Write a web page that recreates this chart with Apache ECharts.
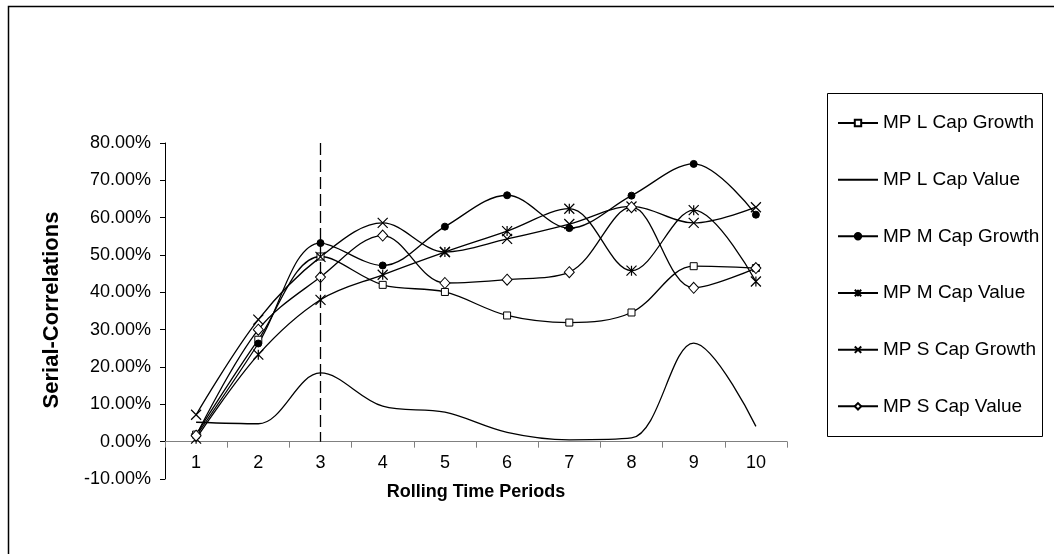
<!DOCTYPE html>
<html>
<head>
<meta charset="utf-8">
<script src="https://cdn.jsdelivr.net/npm/echarts@6/dist/echarts.min.js"></script>
<style>
html,body{margin:0;padding:0;background:#fff;}
#c{width:1054px;height:554px;}
</style>
</head>
<body>
<div id="c"></div>
<script>
// ---- data ----
const categories = ['1','2','3','4','5','6','7','8','9','10'];
const seriesNames = ['MP L Cap Growth','MP L Cap Value','MP M Cap Growth','MP M Cap Value','MP S Cap Growth','MP S Cap Value'];
const lCapGrowth = [1.9, 27.3, 49.6, 42.0, 40.1, 33.8, 31.9, 34.6, 47.0, 46.5];
const lCapValue  = [5.2, 4.8, 18.4, 9.5, 7.9, 2.5, 0.5, 1.0, 26.4, 4.1];
const mCapGrowth = [1.5, 26.3, 53.2, 47.2, 57.6, 66.0, 57.2, 65.9, 74.4, 60.8];
const mCapValue  = [0.8, 23.3, 38.0, 44.7, 50.8, 56.4, 62.4, 45.8, 62.0, 42.9];
const sCapGrowth = [7.2, 32.7, 49.5, 58.6, 50.8, 54.3, 58.3, 63.0, 58.6, 62.8];
const sCapValue  = [1.6, 30.0, 44.1, 55.2, 42.5, 43.4, 45.4, 62.8, 41.2, 46.5];
const refLineCategory = '3';
const refLineFrom = 80;
const refLineTo = 0;
const yMin = -10, yMax = 80, yStep = 10;

// ---- layout ----
const FONT = '"Liberation Sans", Arial, Helvetica, sans-serif';
const W = 1054, H = 554;
const gridTop = 143, gridBottom = 75, gridLeft = 165, gridRight = 267;
const plotH = H - gridTop - gridBottom;
const zeroOffset = -((0 - yMin) / (yMax - yMin)) * plotH;

const chart = echarts.init(document.getElementById('c'), null, {renderer: 'canvas'});
const lineStyle = {color: '#000', width: 1.3};
const SM = 0.35;

function mk(name, data, symbol, size, itemStyle, extra) {
  return Object.assign({
    name: name, type: 'line', data: data, smooth: SM,
    symbol: symbol, symbolSize: size, showSymbol: symbol !== 'none',
    lineStyle: lineStyle, itemStyle: itemStyle,
    emphasis: {disabled: true}, z: 3
  }, extra || {});
}

const crossPath = 'path://M0,0L10,10M10,0L0,10';
const starPath = 'path://M5,0L5,10M0,0L10,10M10,0L0,10';
const legendCenters = [123, 179.7, 236.3, 293, 349.7, 406.3];

const option = {
  animation: false,
  backgroundColor: '#fff',
  textStyle: {fontFamily: FONT},
  grid: {left: gridLeft, right: gridRight, top: gridTop, bottom: gridBottom, containLabel: false},
  legend: seriesNames.map((n, i) => {
    const lg = {
      data: [n], orient: 'vertical', left: 837, top: legendCenters[i] - 9.5,
      padding: 0, itemWidth: 40, itemHeight: 8, itemGap: 5,
      textStyle: {fontSize: 19, color: '#000', fontFamily: FONT, lineHeight: 19},
      selectedMode: false
    };
    if (i === 1) lg.itemStyle = {opacity: 0};
    return lg;
  }),
  xAxis: {
    type: 'category', data: categories, boundaryGap: true,
    offset: zeroOffset,
    axisLine: {show: true, onZero: false, lineStyle: {color: '#808080', width: 1}},
    axisTick: {show: true, length: 6, lineStyle: {color: '#808080'}},
    axisLabel: {fontSize: 18, color: '#000', margin: 12, fontFamily: FONT},
    splitLine: {show: false}
  },
  yAxis: {
    type: 'value', min: yMin, max: yMax, interval: yStep,
    axisLine: {show: true, lineStyle: {color: '#000', width: 1}},
    axisTick: {show: true, length: 5, lineStyle: {color: '#000'}},
    axisLabel: {fontSize: 18, color: '#000', margin: 14, fontFamily: FONT,
      formatter: v => v.toFixed(2) + '%'},
    splitLine: {show: false}
  },
  graphic: [
    {type: 'rect', shape: {x: 8.5, y: 6.5, width: 1200, height: 700}, style: {fill: 'none', stroke: '#000', lineWidth: 1.5}, silent: true, z: 0},
    {type: 'rect', shape: {x: 827.5, y: 93.5, width: 215, height: 343}, style: {fill: 'none', stroke: '#000', lineWidth: 1}, silent: true},
    {type: 'text', x: 52, y: 310, rotation: Math.PI / 2,
      style: {text: 'Serial-Correlations', fontSize: 22, fontWeight: 'bold', fontFamily: FONT, fill: '#000', align: 'center', verticalAlign: 'middle'}},
    {type: 'text', x: 476, y: 492,
      style: {text: 'Rolling Time Periods', fontSize: 18, fontWeight: 'bold', fontFamily: FONT, fill: '#000', align: 'center', verticalAlign: 'middle'}}
  ],
  series: [
    mk(seriesNames[0], lCapGrowth, 'rect', 7, {color: '#fff', borderColor: '#000', borderWidth: 1}, {
      markLine: {
        silent: true, symbol: ['none', 'none'], label: {show: false},
        lineStyle: {type: [12, 5], color: '#000', width: 1.3},
        data: [[{coord: [refLineCategory, refLineFrom]}, {coord: [refLineCategory, refLineTo]}]]
      }
    }),
    mk(seriesNames[1], lCapValue, 'none', 0, {color: '#000'}),
    mk(seriesNames[2], mCapGrowth, 'circle', 7, {color: '#000', borderColor: '#000', borderWidth: 1}),
    mk(seriesNames[3], mCapValue, starPath, 10, {color: 'rgba(0,0,0,0)', borderColor: '#000', borderWidth: 1.2}),
    mk(seriesNames[4], sCapGrowth, crossPath, 10, {color: 'rgba(0,0,0,0)', borderColor: '#000', borderWidth: 1.2}),
    mk(seriesNames[5], sCapValue, 'diamond', [10, 11], {color: '#fff', borderColor: '#000', borderWidth: 1})
  ]
};
chart.setOption(option);
</script>
</body>
</html>
